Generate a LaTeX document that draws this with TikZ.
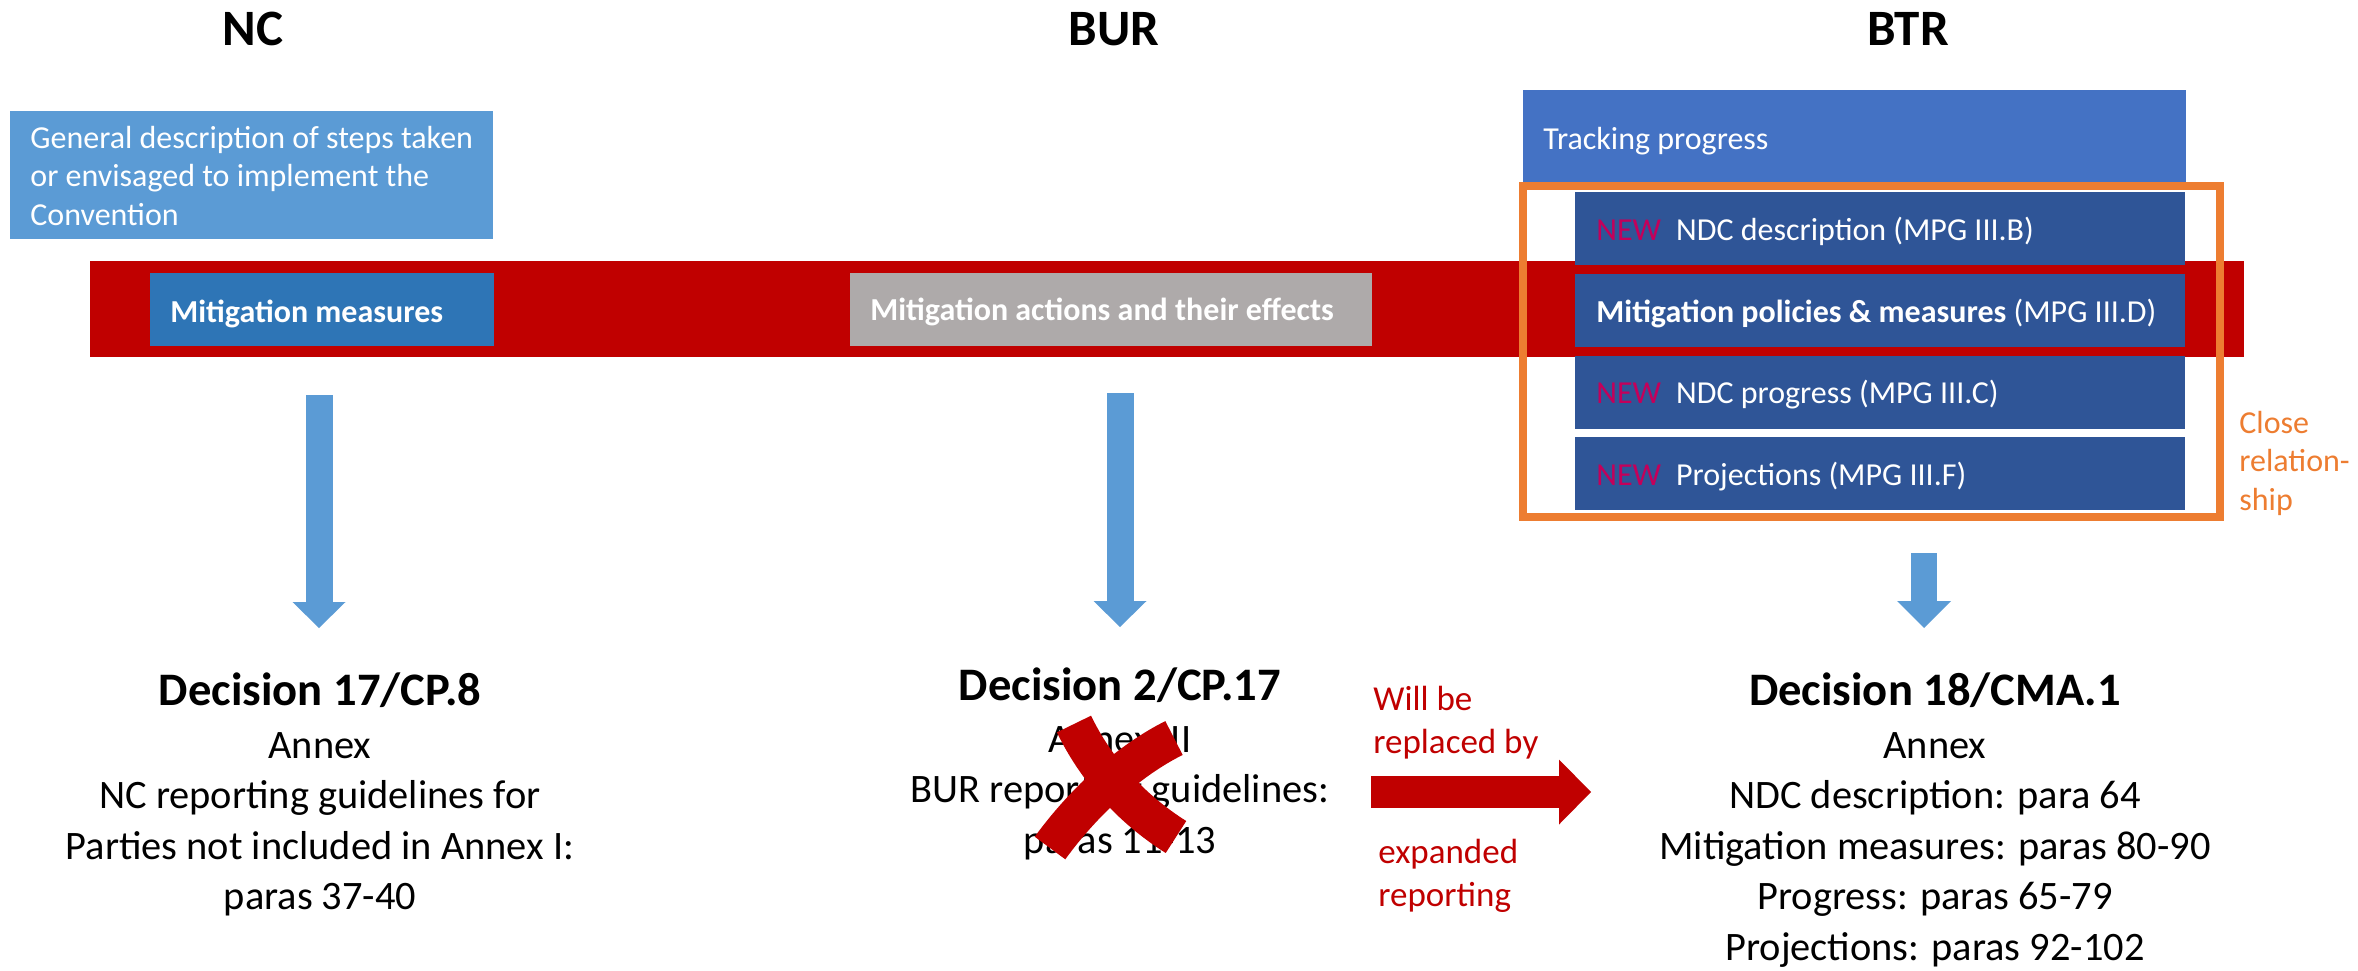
\documentclass[tikz,border=0pt]{standalone}
\usepackage{fontspec}
\setmainfont{Carlito}
\usetikzlibrary{arrows.meta}

\definecolor{bandred}{HTML}{C00000}
\definecolor{lightblue}{HTML}{5B9BD5}
\definecolor{midblue}{HTML}{2E75B6}
\definecolor{greybox}{HTML}{AEAAAA}
\definecolor{trackblue}{HTML}{4472C4}
\definecolor{navy}{HTML}{2F5597}
\definecolor{relorange}{HTML}{ED7D31}
\definecolor{newmark}{HTML}{C4005A}

\begin{document}
\begin{tikzpicture}[x=0.5pt, y=-0.5pt,
  hdr/.style={font=\bfseries\fontsize{25.5}{30}\selectfont, anchor=base, inner sep=0pt},
  boxtxt/.style={font=\fontsize{16}{19.25}\selectfont, text=white, anchor=base west, inner sep=0pt},
  dec/.style={font=\bfseries\fontsize{23.3}{28}\selectfont, anchor=base, inner sep=0pt},
  body/.style={font=\fontsize{20.2}{25.25}\selectfont, anchor=base, inner sep=0pt},
  redtxt/.style={font=\fontsize{17.5}{21.75}\selectfont, text=bandred, anchor=base west, inner sep=0pt},
  reltxt/.style={font=\fontsize{16}{19.25}\selectfont, text=relorange, anchor=base west, inner sep=0pt},
  bluearrow/.style={draw=lightblue, line width=13.5pt,
    -{Triangle[width=26.5pt, length=13pt, line width=0pt]}},
  redarrow/.style={draw=bandred, line width=16pt,
    -{Triangle[width=32.5pt, length=16pt, line width=0pt]}},
  crossstroke/.style={draw=bandred, line cap=butt}
]
\useasboundingbox (0,0) rectangle (2358,970);

% column headings
\node[hdr] (hNC)  at (253,45)  {NC};
\node[hdr] (hBUR) at (1114,45) {BUR};
\node[hdr] (hBTR) at (1908,45) {BTR};

% red band across the three reports
\fill[bandred] (90,261) rectangle (2244,357);

% NC column boxes
\fill[lightblue] (10,111) rectangle (493,239);
\node[boxtxt] (gen) at (30,148) {\begin{tabular}[t]{@{}l@{}}General description of steps taken\\or envisaged to implement the\\Convention\end{tabular}};
\fill[midblue] (150,273) rectangle (494,346);
\node[boxtxt] (mm) at (170,322) {\textbf{Mitigation measures}};

% BUR column box
\fill[greybox] (850,273) rectangle (1372,346);
\node[boxtxt] (mae) at (870,320) {\textbf{Mitigation actions and their effects}};

% BTR column boxes
\fill[trackblue] (1523,90) rectangle (2186,182);
\node[boxtxt] (track) at (1543,149) {Tracking progress};
\fill[navy] (1575,192) rectangle (2185,265);
\fill[navy] (1575,274) rectangle (2185,347);
\fill[navy] (1575,356) rectangle (2185,429);
\fill[navy] (1575,437) rectangle (2185,510);
\node[boxtxt] (ndcd) at (1596,240) {{\color{newmark}NEW}\hspace{7.5pt}NDC description (MPG III.B)};
\node[boxtxt] (mpm)  at (1596,322) {\textbf{Mitigation policies \& measures} (MPG III.D)};
\node[boxtxt] (ndcp) at (1596,403) {{\color{newmark}NEW}\hspace{7.5pt}NDC progress (MPG III.C)};
\node[boxtxt] (proj) at (1596,485) {{\color{newmark}NEW}\hspace{7.5pt}Projections (MPG III.F)};
\draw[relorange, line width=4pt] (1523,186) rectangle (2220,517);
\node[reltxt] (close) at (2239,433) {\begin{tabular}[t]{@{}l@{}}Close\\relation-\\ship\end{tabular}};

% block arrows down to the decisions
\coordinate (a1s) at (319,395);  \coordinate (a1e) at (319,628);
\coordinate (a2s) at (1120,393); \coordinate (a2e) at (1120,627);
\coordinate (a3s) at (1924,553); \coordinate (a3e) at (1924,628);
\draw[bluearrow] (a1s) -- (a1e);
\draw[bluearrow] (a2s) -- (a2e);
\draw[bluearrow, line width=13pt, -{Triangle[width=27pt, length=13.5pt, line width=0pt]}] (a3s) -- (a3e);

% decisions
\node[dec] (d17) at (320,705) {Decision 17/CP.8};
\node[body] (d17b) at (320,758) {\begin{tabular}[t]{@{}c@{}}Annex\\NC reporting guidelines for\\Parties not included in Annex I:\\paras 37-40\end{tabular}};
\node[dec] (d2) at (1120,700) {Decision 2/CP.17};
\node[body] (d2b) at (1120,752) {\begin{tabular}[t]{@{}c@{}}Annex III\\BUR reporting guidelines:\\paras 11-13\end{tabular}};
\node[dec] (d18) at (1935,705) {Decision 18/CMA.1};
\node[body] (d18b) at (1935,758) {\begin{tabular}[t]{@{}c@{}}Annex\\NDC description: para 64\\Mitigation measures: paras 80-90\\Progress: paras 65-79\\Projections: paras 92-102\end{tabular}};

% crossing out of the BUR guidelines
\draw[crossstroke, line width=19pt] (1074,724) .. controls (1095,768) and (1130,808) .. (1176,837);
\draw[crossstroke, line width=19pt] (1174,738) .. controls (1130,760) and (1085,800) .. (1050,848);

% replacement arrow
\node[redtxt] (will) at (1373,710) {\begin{tabular}[t]{@{}l@{}}Will be\\replaced by\end{tabular}};
\node[redtxt] (expd) at (1378,863) {\begin{tabular}[t]{@{}l@{}}expanded\\reporting\end{tabular}};
\coordinate (rs) at (1371,792);
\coordinate (re) at (1591,792);
\draw[redarrow] (rs) -- (re);
\end{tikzpicture}
\end{document}
